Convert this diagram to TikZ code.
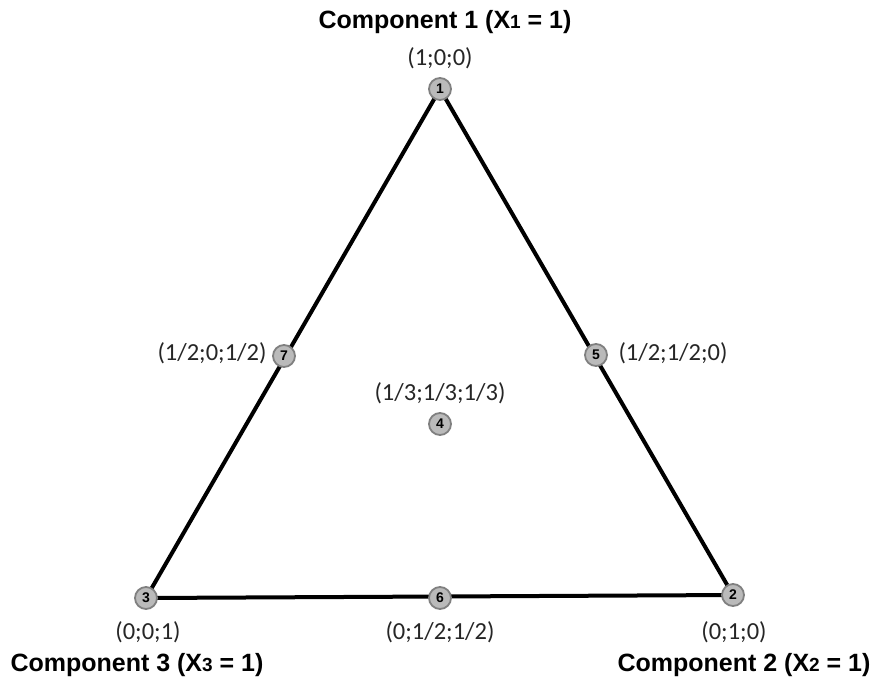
\documentclass[tikz,border=0pt]{standalone}
\usepackage{fontspec}
\setmainfont{Carlito}
\newfontfamily\titlefont{Liberation Sans}[BoldFont={Liberation Sans Bold}]
\begin{document}
\begin{tikzpicture}[x=1pt,y=-1pt,
  pt/.style={circle,draw=black!50,line width=1.8pt,fill=black!27,minimum size=22pt,inner sep=0pt,font=\titlefont\bfseries\fontsize{14}{14}\selectfont},
  coord/.style={font=\fontsize{24.5}{26}\selectfont,text=black!85},
  ttl/.style={font=\titlefont\bfseries\fontsize{25}{28}\selectfont},
  edge/.style={line width=4pt,black}]
\useasboundingbox (0,0) rectangle (873,681);
\newcommand{\sm}[1]{{\fontsize{19}{21}\selectfont #1}}
% vertices
\coordinate (c1) at (440,89);
\coordinate (c2) at (733,595);
\coordinate (c3) at (146,598);
\draw[edge] (c1) -- (c2) -- (c3) -- cycle;
\node[pt] (n1) at (c1) {1};
\node[pt] (n2) at (c2) {2};
\node[pt] (n3) at (c3) {3};
\node[pt] (n4) at (440,424) {4};
\node[pt] (n5) at (596,355) {5};
\node[pt] (n6) at (440,598) {6};
\node[pt] (n7) at (284,356) {7};
% coordinate labels
\node[coord] (l1) at (440,58) {(1;0;0)};
\node[coord] (l2) at (734,632) {(0;1;0)};
\node[coord] (l3) at (148,632) {(0;0;1)};
\node[coord] (l4) at (440,393) {(1/3;1/3;1/3)};
\node[coord] (l5) at (673,353) {(1/2;1/2;0)};
\node[coord] (l6) at (440,632) {(0;1/2;1/2)};
\node[coord] (l7) at (212,353) {(1/2;0;1/2)};
% titles
\node[ttl] (t1) at (445,22) {Component 1 (X\sm{1} = 1)};
\node[ttl] (t2) at (744,665) {Component 2 (X\sm{2} = 1)};
\node[ttl] (t3) at (137,665) {Component 3 (X\sm{3} = 1)};
\end{tikzpicture}
\end{document}
